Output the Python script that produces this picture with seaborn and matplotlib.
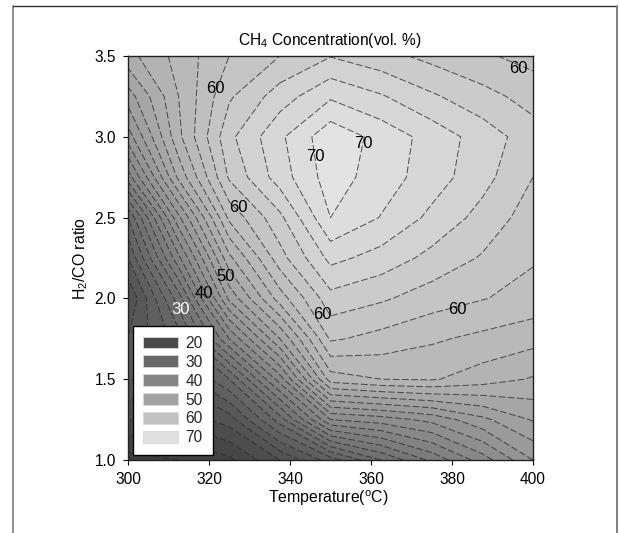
import numpy as np
import pandas as pd
import matplotlib
matplotlib.use('Agg')
import matplotlib.pyplot as plt
from matplotlib.lines import Line2D
from matplotlib.patches import Patch
import seaborn as sns

temperature = [300, 312.5, 325, 337.5, 350, 362.5, 375, 387.5, 400]

# CH4 vol %, one list per H2/CO ratio
ratio_350 = [53.3, 56.7, 60.0, 62.0, 63.9, 62.7, 61.4, 60.3, 59.3]
ratio_325 = [49.0, 56.0, 61.7, 65.0, 67.7, 66.2, 64.3, 62.7, 61.2]
ratio_300 = [45.0, 55.5, 63.5, 67.6, 71.4, 69.3, 67.2, 65.1, 62.9]
ratio_275 = [39.0, 52.5, 62.3, 67.0, 71.0, 69.0, 67.0, 64.7, 62.0]
ratio_250 = [30.0, 45.5, 58.5, 63.5, 70.0, 67.9, 65.5, 63.3, 61.0]
ratio_225 = [26.0, 39.5, 53.5, 61.2, 66.6, 65.2, 63.4, 61.8, 60.2]
ratio_200 = [22.0, 33.0, 48.5, 57.0, 63.3, 62.3, 61.0, 60.1, 59.3]
ratio_175 = [24.0, 29.0, 40.0, 50.0, 60.3, 59.3, 58.3, 57.5, 56.7]
ratio_150 = [24.0, 24.5, 30.0, 41.0, 55.0, 56.0, 56.2, 55.0, 53.8]
ratio_125 = [20.0, 20.5, 23.0, 31.0, 42.0, 43.0, 44.6, 47.5, 50.2]
ratio_100 = [15.0, 16.0, 17.5, 22.0, 27.0, 32.0, 36.5, 41.0, 46.0]

ratios = [3.5, 3.25, 3.0, 2.75, 2.5, 2.25, 2.0, 1.75, 1.5, 1.25, 1.0]

legend_values = [20, 30, 40, 50, 60, 70]
x_ticks = [300, 320, 340, 360, 380, 400]
y_ticks = [1.0, 1.5, 2.0, 2.5, 3.0, 3.5]

# label text, x, y, colour
contour_labels = [
    ('60', 321.6, 3.30, 'black'), ('60', 327.2, 2.56, 'black'),
    ('50', 324.1, 2.135, 'black'), ('40', 318.8, 2.03, 'black'),
    ('30', 313.0, 1.93, 'white'), ('60', 348.0, 1.90, 'black'),
    ('60', 381.4, 1.93, 'black'), ('60', 396.5, 3.42, 'black'),
    ('70', 346.2, 2.88, 'black'), ('70', 358.0, 2.96, 'black'),
]

sns.set_theme(style='ticks')
plt.rcParams['font.family'] = ['Liberation Sans', 'DejaVu Sans']
plt.rcParams['mathtext.fontset'] = 'custom'
plt.rcParams['mathtext.rm'] = 'Liberation Sans'
plt.rcParams['mathtext.default'] = 'regular'

table = pd.DataFrame(
    [ratio_350, ratio_325, ratio_300, ratio_275, ratio_250, ratio_225,
     ratio_200, ratio_175, ratio_150, ratio_125, ratio_100],
    index=ratios, columns=temperature)

# one colour for every 10 vol %, from 10 to 80
grays = sns.blend_palette(['#303030', '#4a4a4a', '#686868', '#858585', '#a3a3a3', '#c2c2c2', '#e0e0e0', '#f8f8f8'],
                          n_colors=70, as_cmap=True)
value_low, value_high = 10, 80

fig = plt.figure(figsize=(6.2, 5.33), dpi=100)
ax = fig.add_axes([128 / 620, 1 - 460 / 533, 405 / 620, 404 / 533])

# flat bands between the contour lines
ax.contourf(table.columns, table.index, table.values, levels=np.arange(14, 73, 2),
            cmap=grays, vmin=value_low, vmax=value_high)
ax.contour(table.columns, table.index, table.values, levels=np.arange(16, 71, 2),
           colors='#2a2a2a', linewidths=0.7, linestyles=[(0, (7, 2.5))], alpha=0.8)

for text, x, y, color in contour_labels:
    ax.text(x, y, text, color=color, fontsize=12, ha='center', va='center', zorder=4)

ax.set_xlim(300, 400)
ax.set_ylim(1.0, 3.5)
ax.set_xticks(x_ticks)
ax.set_yticks(y_ticks)
ax.set_yticklabels([f'{v:.1f}' for v in y_ticks])
ax.tick_params(length=3.8, width=0.8, color='black', labelsize=11.2, pad=5, labelcolor='black')
for spine in ax.spines.values():
    spine.set_color('#222222')
    spine.set_linewidth(1.0)

fig.text(329.5 / 620, 1 - 41 / 533, 'CH$_4$ Concentration(vol. %)', fontsize=11.2, ha='center', va='center', color='black')
fig.text(328 / 620, 1 - 498 / 533, 'Temperature($^{o}$C)', fontsize=11.4, ha='center', va='center', color='black')
fig.text(81 / 620, 1 - 258 / 533, 'H$_2$/CO ratio', fontsize=11.4, rotation=90, ha='center', va='center', color='black')

handles = [Patch(facecolor=grays((v - value_low) / (value_high - value_low)), edgecolor='#d8d8d8', linewidth=0.6)
           for v in legend_values]
legend = ax.legend(handles, [str(v) for v in legend_values], loc='lower left',
                   bbox_to_anchor=(5.3 / 405, 5 / 404), borderaxespad=0, fontsize=11.2,
                   frameon=True, fancybox=False, framealpha=1, edgecolor='black',
                   handlelength=2.25, handleheight=0.8, labelspacing=0.25,
                   handletextpad=0.5, borderpad=0.62)
legend.get_frame().set_linewidth(1.0)
legend.set_zorder(5)

# page frame around the figure, open at the bottom
frame_x = [13 / 620, 13 / 620, 617 / 620, 617 / 620]
frame_y = [0, 1 - 6 / 533, 1 - 6 / 533, 0]
fig.add_artist(Line2D(frame_x[:2], frame_y[:2], color='#707070', lw=1.1))
fig.add_artist(Line2D(frame_x[1:3], frame_y[1:3], color='#303030', lw=1.0))
fig.add_artist(Line2D(frame_x[2:], frame_y[2:], color='#808080', lw=1.4))

fig.savefig('out.png', dpi=100)
